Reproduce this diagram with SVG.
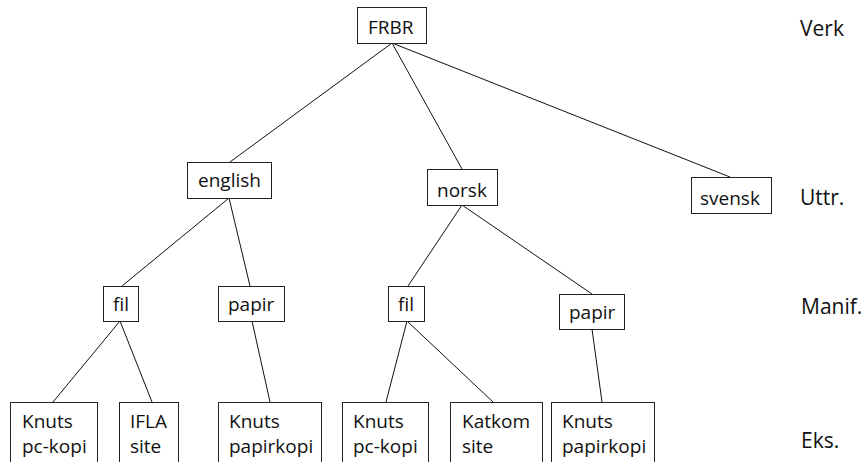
<svg xmlns="http://www.w3.org/2000/svg" width="865" height="462" viewBox="0 0 865 462">
<style>
rect{fill:#fff;stroke:#222;stroke-width:1}
line{stroke:#111;stroke-width:1}
text{font-family:"Open Sans","Noto Sans","DejaVu Sans",sans-serif;font-size:19px;fill:#111}
.lvl{font-size:21px}
</style>
<rect x="0" y="0" width="865" height="462" style="stroke:none"/>
<g id="connectors">
<line x1="392" y1="43" x2="230" y2="162"/>
<line x1="392" y1="43" x2="462" y2="169"/>
<line x1="392" y1="43" x2="730" y2="177"/>
<line x1="229" y1="198" x2="122" y2="286"/>
<line x1="229" y1="198" x2="250" y2="286"/>
<line x1="462" y1="205" x2="408" y2="286"/>
<line x1="462" y1="205" x2="592" y2="294"/>
<line x1="120" y1="321" x2="53" y2="402"/>
<line x1="120" y1="321" x2="152" y2="402"/>
<line x1="252" y1="321" x2="270" y2="402"/>
<line x1="407" y1="321" x2="386" y2="402"/>
<line x1="407" y1="321" x2="493" y2="402"/>
<line x1="592" y1="329" x2="602" y2="402"/>
</g>
<g id="frbr"><rect x="357.5" y="7.5" width="69" height="36"/><text x="368" y="34">FRBR</text></g>
<g id="english"><rect x="187.5" y="162.5" width="84" height="36"/><text x="198" y="187">english</text></g>
<g id="norsk"><rect x="427.5" y="169.5" width="70" height="36"/><text x="437" y="197">norsk</text></g>
<g id="svensk"><rect x="691.5" y="177.5" width="80" height="36"/><text x="700" y="205">svensk</text></g>
<g id="fil-en"><rect x="103.5" y="286.5" width="35" height="35"/><text x="113" y="311">fil</text></g>
<g id="papir-en"><rect x="218.5" y="286.5" width="66" height="35"/><text x="228" y="311">papir</text></g>
<g id="fil-no"><rect x="388.5" y="286.5" width="36" height="35"/><text x="398" y="311">fil</text></g>
<g id="papir-no"><rect x="559.5" y="294.5" width="65" height="35"/><text x="569" y="319">papir</text></g>
<g id="eks1"><rect x="10.5" y="402.5" width="87" height="62"/><text x="22" y="428">Knuts</text><text x="22" y="453">pc-kopi</text></g>
<g id="eks2"><rect x="119.5" y="402.5" width="59" height="62"/><text x="130" y="428">IFLA</text><text x="130" y="453">site</text></g>
<g id="eks3"><rect x="218.5" y="402.5" width="103" height="62"/><text x="229" y="428">Knuts</text><text x="229" y="453">papirkopi</text></g>
<g id="eks4"><rect x="342.5" y="402.5" width="86" height="62"/><text x="353" y="428">Knuts</text><text x="353" y="453">pc-kopi</text></g>
<g id="eks5"><rect x="450.5" y="402.5" width="92" height="62"/><text x="462" y="428">Katkom</text><text x="462" y="453">site</text></g>
<g id="eks6"><rect x="551.5" y="402.5" width="103" height="62"/><text x="562" y="428">Knuts</text><text x="562" y="453">papirkopi</text></g>
<g id="levels">
<text class="lvl" x="800" y="36">Verk</text>
<text class="lvl" x="800" y="205">Uttr.</text>
<text class="lvl" x="801" y="314">Manif.</text>
<text class="lvl" x="801" y="448">Eks.</text>
</g>
</svg>
